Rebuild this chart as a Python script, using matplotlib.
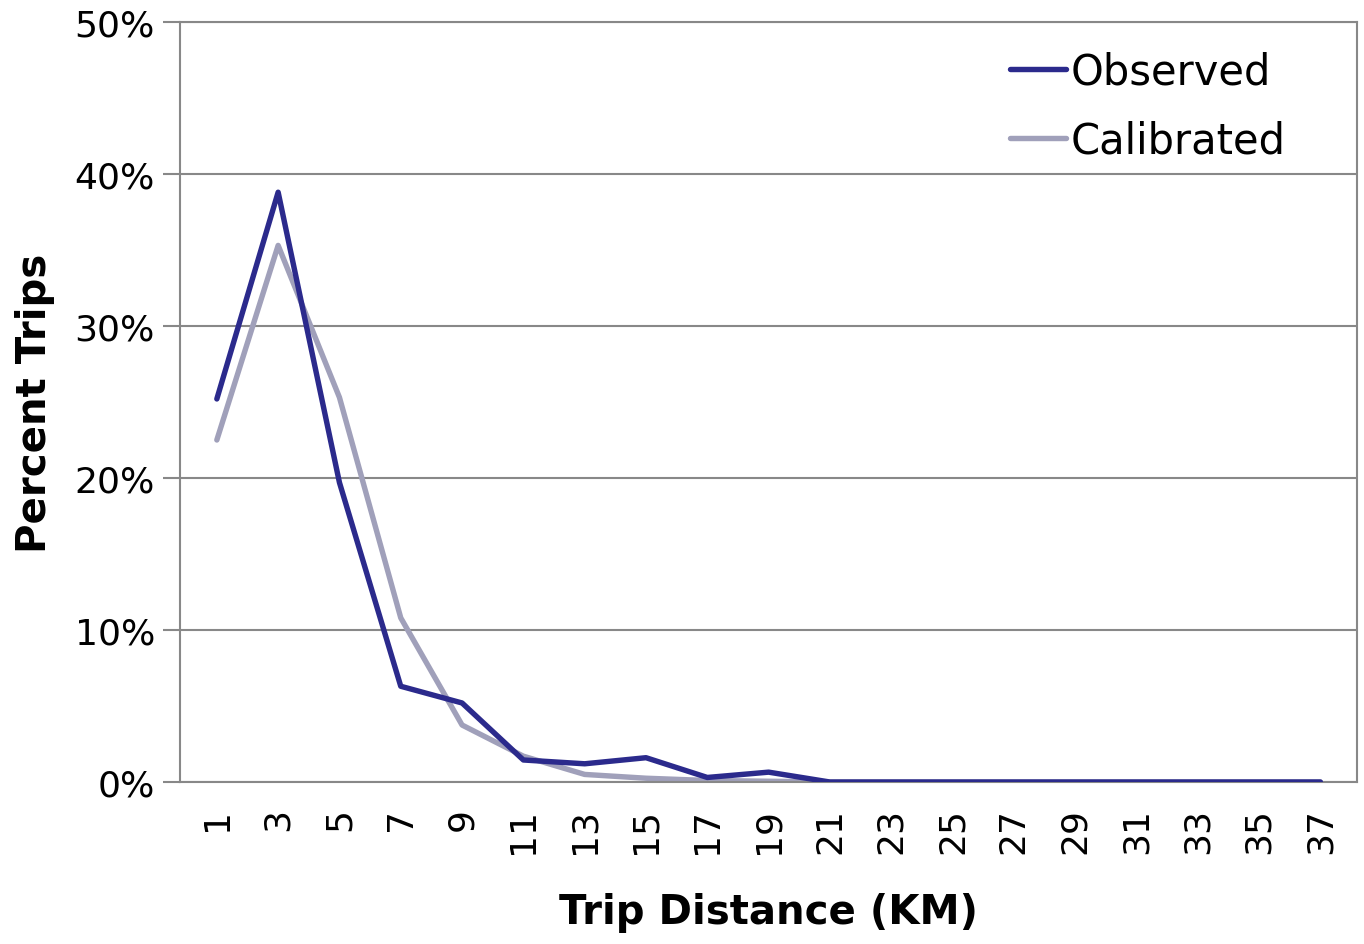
import matplotlib.pyplot as plt

# trip distance bins (km)
distances = [1, 3, 5, 7, 9, 11, 13, 15, 17, 19, 21, 23, 25, 27, 29, 31, 33, 35, 37]
observed = [25.2, 38.8, 19.7, 6.3, 5.2, 1.45, 1.2, 1.6, 0.3, 0.65, 0, 0, 0, 0, 0, 0, 0, 0, 0]
calibrated = [22.5, 35.3, 25.3, 10.8, 3.75, 1.7, 0.5, 0.25, 0.1, 0.05, 0, 0, 0, 0, 0, 0, 0, 0, 0]
y_ticks = [0, 10, 20, 30, 40, 50]

plt.rcParams['font.family'] = ['DejaVu Sans']

fig = plt.figure(figsize=(13.64, 9.45), dpi=100)
ax = fig.add_axes([0.132, 0.1714, 0.863, 0.8043])

x = range(len(distances))
ax.plot(x, observed, color='#2B2A8C', lw=3.9, label='Observed', solid_capstyle='round', zorder=3)
ax.plot(x, calibrated, color='#A0A0BA', lw=3.9, label='Calibrated', solid_capstyle='round', zorder=2)

ax.set_xlim(-0.6, len(distances) - 0.4)
ax.set_ylim(0, 50)
ax.set_yticks(y_ticks)
ax.set_yticklabels([f'{v}%' for v in y_ticks], fontsize=26)
ax.set_xticks(list(x))
ax.set_xticklabels([str(d) for d in distances], rotation=90, fontsize=26)
ax.tick_params(axis='x', length=0, pad=18)
ax.tick_params(axis='y', length=12, width=1.5, color='#888888', pad=6)

ax.grid(axis='y', color='#888888', lw=1.5)
ax.set_axisbelow(True)
for s in ax.spines.values():
    s.set_color('#888888')
    s.set_linewidth(1.5)

ax.set_xlabel('Trip Distance (KM)', fontsize=29, fontweight='bold', labelpad=28)
ax.set_ylabel('Percent Trips', fontsize=29, fontweight='bold', labelpad=14)

ax.legend(loc='upper left', bbox_to_anchor=(0.705, 0.962), frameon=False, fontsize=30,
          handlelength=1.35, handletextpad=0.1, labelspacing=0.65, borderpad=0,
          borderaxespad=0)

fig.savefig('out.png', dpi=100)
